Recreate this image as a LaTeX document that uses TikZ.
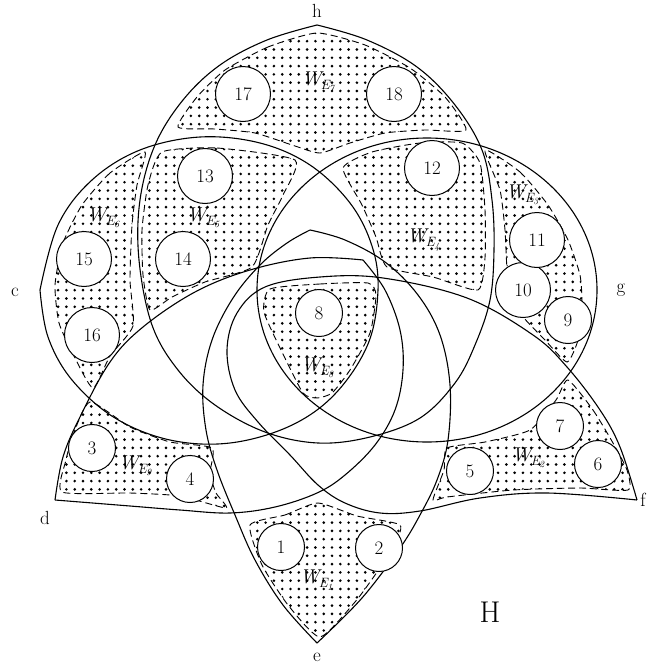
\documentclass[tikz,border=0pt]{standalone}
\usetikzlibrary{patterns}
\pgfdeclarepatternformonly{bigdots}{\pgfqpoint{-2pt}{-2pt}}{\pgfqpoint{2pt}{2pt}}{\pgfqpoint{8.3pt}{8.3pt}}{\pgfpathcircle{\pgfqpoint{0pt}{0pt}}{1.45pt}\pgfusepath{fill}}
\newcommand{\Wsub}[1]{{\itshape W}\kern-0.5pt\raisebox{-4pt}{\fontsize{13.5}{15}\selectfont\itshape E\kern-0.5pt\raisebox{-2.5pt}{\fontsize{9.5}{10}\selectfont #1}}}
\begin{document}
\begin{tikzpicture}[x=1pt,y=-1pt,
  edge/.style={line width=1.1pt},
  wreg/.style={pattern=bigdots, dash pattern=on 7pt off 4pt, line width=0.9pt},
  vtx/.style={circle, draw, fill=white, line width=1pt, font=\fontsize{19}{22}\selectfont, inner sep=0pt},
  one/.style={vtx, minimum size=47pt},
  two/.style={vtx, minimum size=55pt},
  lab/.style={font=\fontsize{19}{22}\selectfont},
  wlab/.style={font=\fontsize{20}{24}\selectfont, inner sep=0pt}
]
\useasboundingbox (0,0) rectangle (650,672);

% dotted regions
\draw[wreg] plot[smooth cycle, tension=0.35] coordinates {(317,33) (268,47) (225,70) (197,97) (178,127) (215,129) (255,133) (295,146) (320,153) (350,143) (385,133) (425,130) (466,130) (445,97) (410,68) (365,45)};
\draw[wreg] plot[smooth cycle, tension=0.35] coordinates {(145,152) (110,173) (82,205) (63,243) (55,285) (59,323) (74,356) (93,388) (110,356) (133,326) (130,280) (132,225) (137,185)};
\draw[wreg] plot[smooth cycle, tension=0.35] coordinates {(162,152) (217,148) (295,160) (283,195) (268,225) (252,267) (205,282) (172,297) (150,310) (143,275) (142,230) (148,185)};
\draw[wreg] plot[smooth cycle, tension=0.35] coordinates {(343,168) (372,152) (420,143) (462,143) (480,163) (485,210) (485,258) (478,290) (433,277) (387,267) (376,237) (362,205)};
\draw[wreg] plot[smooth cycle, tension=0.35] coordinates {(485,150) (520,172) (548,205) (568,240) (580,275) (582,305) (578,340) (567,362) (545,340) (520,313) (508,280) (505,230) (500,190)};
\draw[wreg] plot[smooth cycle, tension=0.35] coordinates {(270,289) (320,284) (368,283) (376,295) (370,333) (350,370) (332,393) (317,398) (303,393) (282,352) (264,312)};
\draw[wreg] plot[smooth cycle, tension=0.35] coordinates {(90,402) (130,427) (170,442) (212,448) (210,473) (216,493) (226,508) (180,496) (130,493) (62,492) (66,460) (73,435)};
\draw[wreg] plot[smooth cycle, tension=0.35] coordinates {(568,380) (593,410) (613,443) (627,470) (628,490) (580,488) (513,490) (447,497) (433,500) (444,470) (447,448) (485,442) (530,430) (556,400)};
\draw[wreg] plot[smooth cycle, tension=0.35] coordinates {(250,525) (285,515) (318,503) (357,516) (400,525) (393,548) (375,575) (355,602) (320,637) (288,605) (262,565)};

% hyperedge curves
% c-shape
\draw[edge] plot[smooth, tension=0.6] coordinates {(40,290) (58,225) (92,180) (140,150) (200,137) (260,143) (310,165) (350,203) (372,246) (378,290) (368,344) (335,394) (290,426) (230,443) (170,440) (115,418) (72,380) (48,337) (40,290)};
% g-shape
\draw[edge] (427,290) ellipse [x radius=170pt, y radius=152pt];
% h-shape
\draw[edge] plot[smooth, tension=0.6] coordinates {(317,25) (367,40) (417,67) (455,105) (482,150) (492,200) (494,250) (490,300) (475,345) (455,383) (420,418) (370,437) (318,443) (265,432) (215,405) (178,370) (152,325) (139,260) (140,200) (155,145) (183,100) (220,65) (267,40) (317,25)};
% e-shape
\draw[edge] plot[smooth, tension=0.6] coordinates {(310,230) (287,243) (260,265) (233,298) (212,340) (203,385) (206,430) (217,470) (235,515) (255,560) (283,605) (317,643)};
\draw[edge] plot[smooth, tension=0.6] coordinates {(310,230) (345,240) (385,262) (418,295) (440,335) (450,385) (448,440) (437,480) (420,515) (400,548) (362,598) (317,643)};
% d-shape
\draw[edge] plot[smooth, tension=0.6] coordinates {(55,500) (63,457) (80,417) (110,362) (143,327) (195,292) (250,270) (310,258) (363,260)};
\draw[edge] plot[smooth, tension=0.6] coordinates {(363,260) (385,290) (400,330) (403,370) (395,410) (375,445) (345,475) (317,493) (275,507) (230,513) (180,510) (130,506) (55,500)};
% f-shape
\draw[edge] plot[smooth, tension=0.6] coordinates {(637,500) (620,447) (600,410) (567,367) (533,335) (467,298) (383,278) (320,277) (265,287) (237,313) (227,350) (235,390) (258,422) (290,455) (318,485) (345,503) (380,513) (420,511) (480,498) (547,493) (637,500)};

% vertex circles
\node[one] (n1) at (281,547) {1};
\node[one] (n2) at (379,548) {2};
\node[one] (n3) at (92,448) {3};
\node[one] (n4) at (190,479) {4};
\node[one] (n5) at (470,471) {5};
\node[one] (n6) at (598,464) {6};
\node[one] (n7) at (560,426) {7};
\node[one] (n8) at (319,313) {8};
\node[one] (n9) at (568,320) {9};
\node[two] (n10) at (523,290) {10};
\node[two] (n11) at (537,240) {11};
\node[two] (n12) at (432,168) {12};
\node[two] (n13) at (205,176) {13};
\node[two] (n14) at (183,259) {14};
\node[two] (n15) at (84,259) {15};
\node[two] (n16) at (92,335) {16};
\node[two] (n17) at (243,94) {17};
\node[two] (n18) at (394,94) {18};

% W labels
\node[wlab] (w1) at (316,580) {\Wsub{1}};
\node[wlab] (w2) at (528,458) {\Wsub{2}};
\node[wlab] (w3) at (522,195) {\Wsub{3}};
\node[wlab] (w4) at (423,240) {\Wsub{4}};
\node[wlab] (w5) at (203,218) {\Wsub{5}};
\node[wlab] (w6) at (103,218) {\Wsub{6}};
\node[wlab] (w7) at (318,82) {\Wsub{7}};
\node[wlab] (w8) at (317,368) {\Wsub{8}};
\node[wlab] (w9) at (135,466) {\Wsub{9}};

% vertex labels
\node[lab] (lh) at (317,11) {h};
\node[lab] (lc) at (15,292) {c};
\node[lab] (lg) at (621,290) {g};
\node[lab] (ld) at (45,518) {d};
\node[lab] (le) at (317,657) {e};
\node[lab] (lf) at (643,500) {f};
\node[font=\fontsize{30}{34}\selectfont] (bigH) at (490,612) {H};
\end{tikzpicture}
\end{document}
